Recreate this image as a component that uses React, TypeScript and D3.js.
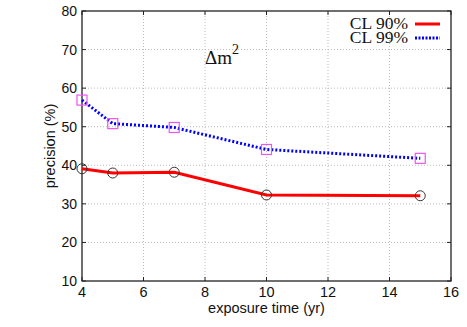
import { useRef, useEffect } from 'react';
import * as d3 from 'd3';

const years = [4, 5, 7, 10, 15];
const cl90 = [39.1, 38.0, 38.2, 32.3, 32.1];
const cl99 = [56.9, 50.8, 49.8, 44.1, 41.8];
const xTicks = [4, 6, 8, 10, 12, 14, 16];
const yTicks = [10, 20, 30, 40, 50, 60, 70, 80];
const legendLabels = ['CL 90%', 'CL 99%'];

export default function App() {
  const svgRef = useRef<SVGSVGElement>(null);

  useEffect(() => {
    const width = 467;
    const height = 327;
    const margin = { top: 11, right: 16, bottom: 46, left: 82 };

    const svg = d3.select(svgRef.current);
    svg.selectAll('*').remove();

    const x = d3.scaleLinear().domain([4, 16]).range([margin.left, width - margin.right]);
    const y = d3.scaleLinear().domain([10, 80]).range([height - margin.bottom, margin.top]);

    const sans = "'Liberation Sans', Arial, sans-serif";
    const serif = "'Liberation Serif', 'Times New Roman', serif";

    // grid
    const grid = svg.append('g').attr('stroke', '#bbb').attr('stroke-width', 1).attr('stroke-dasharray', '1,2');
    xTicks.slice(1, -1).forEach(t => {
      grid.append('line').attr('x1', x(t)).attr('x2', x(t)).attr('y1', y(10)).attr('y2', y(80));
    });
    yTicks.slice(1, -1).forEach(t => {
      grid.append('line').attr('x1', x(4)).attr('x2', x(16)).attr('y1', y(t)).attr('y2', y(t));
    });

    // frame + ticks
    svg.append('rect')
      .attr('x', x(4)).attr('y', y(80))
      .attr('width', x(16) - x(4)).attr('height', y(10) - y(80))
      .attr('fill', 'none').attr('stroke', '#222').attr('stroke-width', 1.3);

    const ticks = svg.append('g').attr('stroke', '#222').attr('stroke-width', 1);
    xTicks.forEach(t => {
      ticks.append('line').attr('x1', x(t)).attr('x2', x(t)).attr('y1', y(10)).attr('y2', y(10) - 4);
      ticks.append('line').attr('x1', x(t)).attr('x2', x(t)).attr('y1', y(80)).attr('y2', y(80) + 4);
    });
    yTicks.forEach(t => {
      ticks.append('line').attr('x1', x(4)).attr('x2', x(4) + 4).attr('y1', y(t)).attr('y2', y(t));
      ticks.append('line').attr('x1', x(16)).attr('x2', x(16) - 4).attr('y1', y(t)).attr('y2', y(t));
    });

    // tick labels
    svg.append('g').selectAll('text').data(xTicks).join('text')
      .attr('x', d => x(d)).attr('y', y(10) + 16)
      .attr('text-anchor', 'middle').attr('font-family', sans).attr('font-size', 14.5).attr('fill', '#111')
      .text(d => d);
    svg.append('g').selectAll('text').data(yTicks).join('text')
      .attr('x', x(4) - 5).attr('y', d => y(d) + 5)
      .attr('text-anchor', 'end').attr('font-family', sans).attr('font-size', 14).attr('fill', '#111')
      .text(d => d);

    // axis titles
    svg.append('text')
      .attr('x', (x(4) + x(16)) / 2).attr('y', 313)
      .attr('text-anchor', 'middle').attr('font-family', sans).attr('font-size', 14.5).attr('fill', '#111')
      .text('exposure time (yr)');
    svg.append('text')
      .attr('transform', `translate(55,${(y(10) + y(80)) / 2}) rotate(-90)`)
      .attr('text-anchor', 'middle').attr('font-family', sans).attr('font-size', 14.5).attr('fill', '#111')
      .text('precision (%)');

    // lines
    const line = d3.line<number>().x((d, i) => x(years[i])).y(d => y(d));
    svg.append('path').datum(cl90).attr('d', line)
      .attr('fill', 'none').attr('stroke', '#ff0000').attr('stroke-width', 3);
    svg.append('path').datum(cl99).attr('d', line)
      .attr('fill', 'none').attr('stroke', '#0000ff').attr('stroke-width', 3).attr('stroke-dasharray', '2,2');

    // markers
    svg.append('g').selectAll('circle').data(cl90).join('circle')
      .attr('cx', (d, i) => x(years[i])).attr('cy', d => y(d)).attr('r', 5)
      .attr('fill', 'none').attr('stroke', '#333').attr('stroke-width', 1);
    svg.append('g').selectAll('rect').data(cl99).join('rect')
      .attr('x', (d, i) => x(years[i]) - 5).attr('y', d => y(d) - 5)
      .attr('width', 10).attr('height', 10)
      .attr('fill', 'none').attr('stroke', '#ee55ee').attr('stroke-width', 1.2);

    // legend
    const legend = svg.append('g');
    legendLabels.forEach((lab, i) => {
      const ly = 29 + i * 14;
      legend.append('text')
        .attr('x', 408).attr('y', ly)
        .attr('text-anchor', 'end').attr('font-family', serif).attr('font-size', 17.5).attr('fill', '#111')
        .text(lab);
      legend.append('line')
        .attr('x1', 415).attr('x2', 440).attr('y1', ly - 5).attr('y2', ly - 5)
        .attr('stroke', i === 0 ? '#ff0000' : '#0000ff').attr('stroke-width', 3)
        .attr('stroke-dasharray', i === 0 ? null : '2,1.5');
    });

    // annotation
    const ann = svg.append('text')
      .attr('x', 205).attr('y', 64)
      .attr('font-family', serif).attr('font-size', 19).attr('fill', '#111');
    ann.append('tspan').text('\u0394m');
    ann.append('tspan').attr('dy', -10).attr('font-size', 14).text('2');
  }, []);

  return (
    <svg
      ref={svgRef}
      width={467}
      height={327}
      style={{ position: 'absolute', left: 0, top: 0, background: '#fff' }}
    />
  );
}
